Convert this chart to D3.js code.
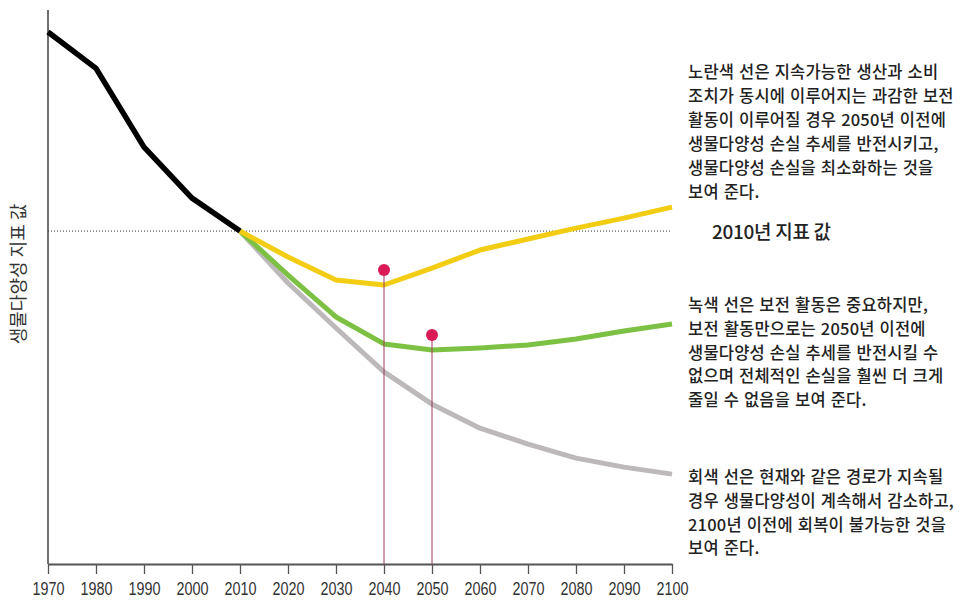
<!DOCTYPE html>
<html>
<head>
<meta charset="utf-8">
<script src="https://cdn.jsdelivr.net/npm/d3@7/dist/d3.min.js"></script>
<style>
  html, body { margin: 0; padding: 0; background: #fff; }
  svg { display: block; }
  .kr { font-family: "Noto Sans CJK KR", "Noto Sans", sans-serif; }
</style>
</head>
<body>
<svg id="chart" width="970" height="610"></svg>
<script>
// ---- data (index value, 2010 = 1.0) ----
const tickYears = [1970,1980,1990,2000,2010,2020,2030,2040,2050,2060,2070,2080,2090,2100];
const pastYears = [1970,1980,1990,2000,2010];
const pastValues = [1.598,1.489,1.252,1.099,1.0];
const futureYears = [2010,2020,2030,2040,2050,2060,2070,2080,2090,2100];
const yellowValues = [1.0,0.922,0.853,0.838,0.889,0.943,0.976,1.009,1.039,1.072];
const greenValues  = [1.0,0.868,0.742,0.661,0.643,0.649,0.658,0.676,0.700,0.721];
const grayValues   = [1.0,0.844,0.709,0.577,0.480,0.408,0.360,0.318,0.291,0.270];
const markerYears  = [2040,2050];
const markerValues = [0.883,0.688];
const baselineValue = 1.0;
const yAxisLabel = "생물다양성 지표 값";
const baselineLabel = "2010년 지표 값";
const yellowNote = ["노란색 선은 지속가능한 생산과 소비","조치가 동시에 이루어지는 과감한 보전","활동이 이루어질 경우 2050년 이전에","생물다양성 손실 추세를 반전시키고,","생물다양성 손실을 최소화하는 것을","보여 준다."];
const greenNote = ["녹색 선은 보전 활동은 중요하지만,","보전 활동만으로는 2050년 이전에","생물다양성 손실 추세를 반전시킬 수","없으며 전체적인 손실을 훨씬 더 크게","줄일 수 없음을 보여 준다."];
const grayNote = ["회색 선은 현재와 같은 경로가 지속될","경우 생물다양성이 계속해서 감소하고,","2100년 이전에 회복이 불가능한 것을","보여 준다."];

const svg = d3.select("#chart");
const x = d3.scaleLinear().domain([1970, 2100]).range([48, 672]);
const y = d3.scaleLinear().domain([0, 1.664]).range([564, 10]);

// y axis line
svg.append("line").attr("x1", x(1970)).attr("x2", x(1970))
  .attr("y1", y(1.664)).attr("y2", y(0))
  .attr("stroke", "#222").attr("stroke-width", 1.3);

// baseline dotted
svg.append("line").attr("x1", x(1970)).attr("x2", x(2100))
  .attr("y1", y(baselineValue)).attr("y2", y(baselineValue))
  .attr("stroke", "#333").attr("stroke-width", 1).attr("stroke-dasharray", "1,2");

// x axis
const xAxis = d3.axisBottom(x).tickValues(tickYears).tickFormat(d3.format("d"))
  .tickSize(10).tickSizeOuter(0);
const gx = svg.append("g").attr("transform", `translate(0,${y(0)})`).call(xAxis);
gx.attr("font-size", 18);
gx.select(".domain").attr("stroke", "#555").attr("stroke-width", 2);
gx.selectAll(".tick line").attr("stroke", "#555").attr("stroke-width", 1.3);
gx.selectAll(".tick text")
  .attr("font-family", "'Liberation Sans', Arial, sans-serif")
  .attr("font-size", 18).attr("fill", "#333").attr("dy", "1.0em")
  .attr("textLength", 32).attr("lengthAdjust", "spacingAndGlyphs");

const line = d3.line().x(d => x(d[0])).y(d => y(d[1]));
const zip = (a, b) => a.map((v, i) => [v, b[i]]);

const series = [
  {vals: grayValues, color: "#bdb9bb"},
  {vals: greenValues, color: "#7cc143"},
  {vals: yellowValues, color: "#f2cd13"}
];
series.forEach(s => {
  svg.append("path").datum(zip(futureYears, s.vals)).attr("d", line)
    .attr("fill", "none").attr("stroke", s.color).attr("stroke-width", 5)
    .attr("stroke-linejoin", "round");
});
svg.append("path").datum(zip(pastYears, pastValues)).attr("d", line)
  .attr("fill", "none").attr("stroke", "#000").attr("stroke-width", 5.5)
  .attr("stroke-linejoin", "miter");

// markers
markerYears.forEach((yr, i) => {
  svg.append("line").attr("x1", x(yr)).attr("x2", x(yr))
    .attr("y1", y(markerValues[i])).attr("y2", y(0))
    .attr("stroke", "#9c3a5f").attr("stroke-width", 1);
  svg.append("circle").attr("cx", x(yr)).attr("cy", y(markerValues[i])).attr("r", 6)
    .attr("fill", "#d91c55");
});

// y axis label
svg.append("text").attr("class", "kr")
  .attr("transform", `translate(17,${274}) rotate(-90)`)
  .attr("text-anchor", "middle").attr("dominant-baseline", "central")
  .attr("font-size", 18).attr("fill", "#333")
  .text(yAxisLabel);

// baseline label
svg.append("text").attr("class", "kr").attr("x", 712).attr("y", 239)
  .attr("font-size", 19).attr("font-weight", 500).attr("fill", "#222")
  .attr("letter-spacing", "-0.3px")
  .text(baselineLabel);

function note(lines, x0, y0, lh) {
  const t = svg.append("text").attr("class", "kr").attr("font-size", 16.5)
    .attr("font-weight", 500)
    .attr("fill", "#222").attr("letter-spacing", "0.2px").attr("word-spacing", "1px");
  lines.forEach((l, i) => {
    t.append("tspan").attr("x", x0).attr("y", y0 + i * lh).text(l);
  });
}
note(yellowNote, 688, 78, 24);
note(greenNote, 688, 311, 23.8);
note(grayNote, 688, 483, 23.8);
</script>
</body>
</html>
